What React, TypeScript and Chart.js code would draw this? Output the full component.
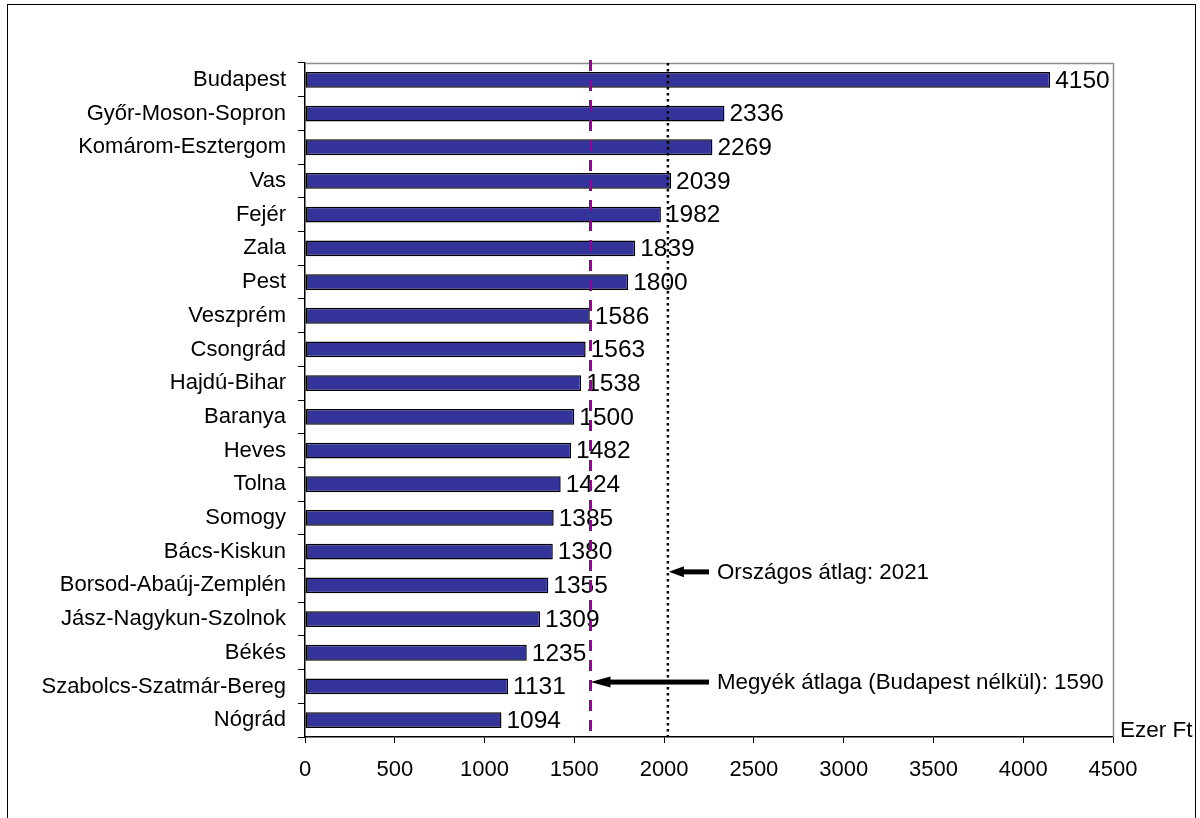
import React, { useEffect, useRef } from "react";
import { Chart, registerables } from "chart.js";

Chart.register(...registerables);

const categories = [
  "Budapest",
  "Győr-Moson-Sopron",
  "Komárom-Esztergom",
  "Vas",
  "Fejér",
  "Zala",
  "Pest",
  "Veszprém",
  "Csongrád",
  "Hajdú-Bihar",
  "Baranya",
  "Heves",
  "Tolna",
  "Somogy",
  "Bács-Kiskun",
  "Borsod-Abaúj-Zemplén",
  "Jász-Nagykun-Szolnok",
  "Békés",
  "Szabolcs-Szatmár-Bereg",
  "Nógrád",
];
const values = [4150, 2336, 2269, 2039, 1982, 1839, 1800, 1586, 1563, 1538, 1500, 1482, 1424, 1385, 1380, 1355, 1309, 1235, 1131, 1094];

const xMin = 0;
const xMax = 4500;
const xStep = 500;
const unitLabel = "Ezer Ft";

const nationalAvg = 2021;
const nationalLabel = "Országos átlag: 2021";
const nationalLabelRow = 14.6;
const countyAvg = 1590;
const countyLabel = "Megyék átlaga (Budapest nélkül): 1590";
const countyLabelRow = 17.87;

const FONT = "'Liberation Sans', Arial, sans-serif";

const overlayPlugin = {
  id: "overlay",
  beforeDraw(chart: any) {
    const ctx = chart.ctx;
    ctx.save();
    ctx.fillStyle = "#ffffff";
    ctx.fillRect(0, 0, chart.width, chart.height);
    ctx.strokeStyle = "#000000";
    ctx.lineWidth = 1;
    ctx.strokeRect(7.5, 4.5, 1188, 830);
    ctx.restore();
  },
  afterDatasetsDraw(chart: any) {
    const ctx = chart.ctx;
    const ca = chart.chartArea;
    const xs = chart.scales.x;
    const ys = chart.scales.y;
    ctx.save();
    // gray plot border top/right
    ctx.strokeStyle = "#8c8c8c";
    ctx.lineWidth = 1.5;
    ctx.beginPath();
    ctx.moveTo(ca.left, ca.top + 0.5);
    ctx.lineTo(ca.right + 0.5, ca.top + 0.5);
    ctx.lineTo(ca.right + 0.5, ca.bottom);
    ctx.stroke();

    // value labels
    ctx.font = `24.5px ${FONT}`;
    ctx.fillStyle = "#000000";
    ctx.textAlign = "left";
    ctx.textBaseline = "middle";
    const meta = chart.getDatasetMeta(0);
    meta.data.forEach((bar: any, i: number) => {
      ctx.fillText(String(values[i]), bar.x + 5, bar.y + 1);
    });

    // county average dashed purple
    const cx = xs.getPixelForValue(countyAvg);
    ctx.strokeStyle = "#990099";
    ctx.lineWidth = 3;
    ctx.setLineDash([11, 9]);
    ctx.beginPath();
    ctx.moveTo(cx, ca.top - 3);
    ctx.lineTo(cx, ca.bottom);
    ctx.stroke();

    // national average dotted black
    const nx = xs.getPixelForValue(nationalAvg);
    ctx.strokeStyle = "#000000";
    ctx.lineWidth = 2.5;
    ctx.setLineDash([2.5, 3.5]);
    ctx.beginPath();
    ctx.moveTo(nx, ca.top);
    ctx.lineTo(nx, ca.bottom);
    ctx.stroke();
    ctx.setLineDash([]);

    const textX = 717;
    const drawArrow = (tipX: number, y: number, headLen: number) => {
      ctx.fillStyle = "#000000";
      ctx.fillRect(tipX + headLen - 1, y - 2.5, textX - 8 - (tipX + headLen - 1), 5);
      ctx.beginPath();
      ctx.moveTo(tipX, y);
      ctx.lineTo(tipX + headLen, y - 5.5);
      ctx.lineTo(tipX + headLen, y + 5.5);
      ctx.closePath();
      ctx.fill();
    };
    const ny = ys.getPixelForValue(nationalLabelRow);
    drawArrow(nx + 1, ny, 15);
    const cy = ys.getPixelForValue(countyLabelRow);
    drawArrow(cx, cy, 20);

    ctx.font = `22.3px ${FONT}`;
    ctx.fillStyle = "#000000";
    ctx.textAlign = "left";
    ctx.textBaseline = "middle";
    ctx.fillText(nationalLabel, textX, ny + 1);
    ctx.fillText(countyLabel, textX, cy + 1);

    // unit label
    ctx.font = `22.5px ${FONT}`;
    ctx.fillText(unitLabel, ca.right + 7, ca.bottom - 6);
    ctx.restore();
  },
};

export default function App() {
  const ref = useRef<HTMLCanvasElement | null>(null);
  useEffect(() => {
    if (!ref.current) return;
    const chart = new Chart(ref.current, {
      type: "bar",
      data: {
        labels: categories,
        datasets: [
          {
            data: values,
            backgroundColor: "#333399",
            borderColor: "#000000",
            borderWidth: 1.5,
            borderSkipped: false,
            barPercentage: 0.47,
            categoryPercentage: 1,
          },
        ],
      },
      options: {
        indexAxis: "y",
        responsive: false,
        animation: false,
        events: [],
        layout: { padding: { top: 63, right: 87, left: 0, bottom: 0 } },
        plugins: {
          legend: { display: false },
          tooltip: { enabled: false },
          title: { display: false },
        },
        scales: {
          x: {
            type: "linear",
            min: xMin,
            max: xMax,
            ticks: {
              stepSize: xStep,
              color: "#000000",
              font: { family: FONT, size: 22 },
              padding: 14,
              callback: (v: any) => String(v),
            },
            grid: {
              drawOnChartArea: false,
              drawTicks: true,
              tickLength: 6,
              color: "#000000",
              lineWidth: 1,
            },
            border: { color: "#000000", width: 1.5 },
            afterFit(scale: any) {
              scale.height = 81;
            },
          },
          y: {
            type: "category",
            ticks: {
              color: "#000000",
              font: { family: FONT, size: 22 },
              padding: 12,
              autoSkip: false,
            },
            grid: {
              drawOnChartArea: false,
              drawTicks: true,
              tickLength: 7,
              color: "#000000",
              lineWidth: 1,
              offset: true,
            },
            border: { color: "#000000", width: 1.5 },
            afterFit(scale: any) {
              scale.width = 305;
            },
          },
        },
      },
      plugins: [overlayPlugin],
    } as any);
    return () => chart.destroy();
  }, []);
  return (
    <div style={{ position: "absolute", left: 0, top: 0, width: 1200, height: 818 }}>
      <canvas ref={ref} width={1200} height={818} style={{ display: "block", width: 1200, height: 818 }} />
    </div>
  );
}
